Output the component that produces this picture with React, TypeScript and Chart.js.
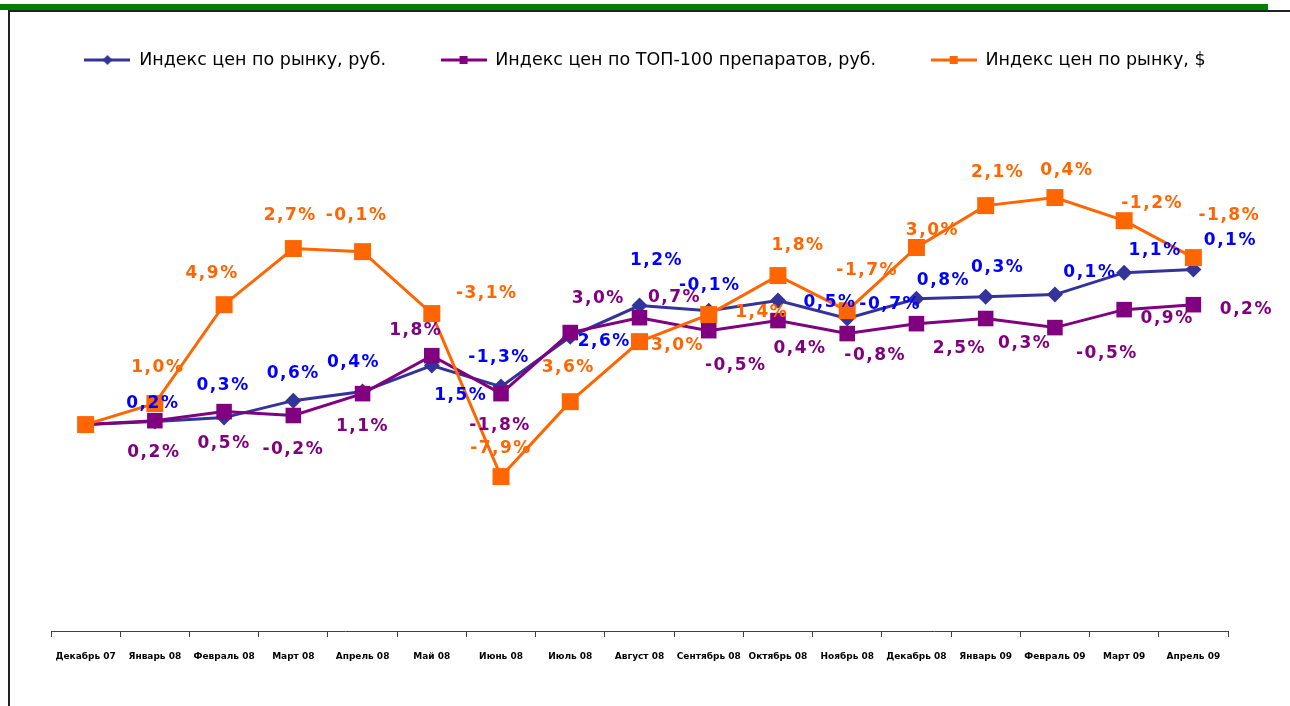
import React, { useEffect, useRef } from "react";
import { Chart, registerables } from "chart.js";

Chart.register(...registerables);

// ---- data ----
const categories = [
  "Декабрь 07", "Январь 08", "Февраль 08", "Март 08", "Апрель 08", "Май 08",
  "Июнь 08", "Июль 08", "Август 08", "Сентябрь 08", "Октябрь 08", "Ноябрь 08",
  "Декабрь 08", "Январь 09", "Февраль 09", "Март 09", "Апрель 09",
];

const seriesNames = [
  "Индекс цен по рынку, руб.",
  "Индекс цен по ТОП-100 препаратов, руб.",
  "Индекс цен по рынку, $",
];

// index levels (start = 100)
const marketRub = [100, 100.15, 100.34, 101.16, 101.6, 102.86, 101.84, 104.26, 105.77, 105.52, 106.01, 105.14, 106.1, 106.2, 106.3, 107.36, 107.51];
const top100Rub = [100, 100.19, 100.63, 100.44, 101.5, 103.34, 101.5, 104.46, 105.18, 104.55, 105.04, 104.41, 104.89, 105.14, 104.7, 105.57, 105.81];
const marketUsd = [100, 101.02, 105.81, 108.53, 108.38, 105.38, 97.48, 101.11, 104.02, 105.33, 107.22, 105.52, 108.58, 110.61, 111.0, 109.88, 108.09];

// month-on-month changes shown as labels, %
const marketRubChange = [null, 0.2, 0.3, 0.6, 0.4, 1.5, -1.3, 2.6, 1.2, -0.1, 0.5, -0.7, 0.8, 0.3, 0.1, 1.1, 0.1];
const top100RubChange = [null, 0.2, 0.5, -0.2, 1.1, 1.8, -1.8, 3.0, 0.7, -0.5, 0.4, -0.8, 2.5, 0.3, -0.5, 0.9, 0.2];
const marketUsdChange = [null, 1.0, 4.9, 2.7, -0.1, -3.1, -7.9, 3.6, 3.0, 1.4, 1.8, -1.7, 3.0, 2.1, 0.4, -1.2, -1.8];

// ---- label placement (style: offsets of each label from its point) ----
const marketRubLabelOffsets = [
  [0, 0], [-2, -18], [-1, -32], [0, -27], [-9, -29], [29, 30], [-2, -29], [34, 5], [17, -45],
  [1, -25], [52, 2], [43, -14], [27, -18], [12, -29], [35, -22], [31, -22], [37, -29],
];
const top100RubLabelOffsets = [
  [0, 0], [-1, 32], [0, 32], [0, 34], [0, 33], [-16, -25], [-1, 32], [28, -34], [35, -20],
  [27, 35], [22, 28], [28, 22], [43, 25], [39, 25], [52, 26], [43, 9], [53, 5],
];
const marketUsdLabelOffsets = [
  [0, 0], [3, -36], [-12, -31], [-3, -33], [-6, -36], [55, -20], [0, -28], [-2, -34], [38, 4],
  [53, -2], [20, -30], [20, -40], [16, -17], [12, -33], [12, -27], [28, -17], [36, -42],
];

const BLUE_LINE = "#333399";
const PURPLE = "#800080";
const ORANGE = "#FF6600";
const BLUE_TEXT = "#0000FF";

const LEGEND_FONT = 17.5;
const LEGEND_PAD = 54.5;
const TOP_PAD = 60 - LEGEND_PAD - LEGEND_FONT / 2;

function fmt(v: number): string {
  return v.toFixed(1).replace(".", ",") + "%";
}

function legendIcon(color: string, shape: "diamond" | "square"): HTMLCanvasElement {
  const c = document.createElement("canvas");
  c.width = 46;
  c.height = 12;
  const g = c.getContext("2d")!;
  g.strokeStyle = color;
  g.lineWidth = 3;
  g.beginPath();
  g.moveTo(0, 6);
  g.lineTo(46, 6);
  g.stroke();
  g.fillStyle = color;
  if (shape === "square") {
    g.fillRect(19, 2, 8, 8);
  } else {
    g.beginPath();
    g.moveTo(23, 1);
    g.lineTo(28, 6);
    g.lineTo(23, 11);
    g.lineTo(18, 6);
    g.closePath();
    g.fill();
  }
  return c;
}

const labelPlugin = {
  id: "pointLabels",
  afterDatasetsDraw(chart: any) {
    const ctx = chart.ctx as CanvasRenderingContext2D;
    const sets = [
      { idx: 0, values: marketRubChange, offs: marketRubLabelOffsets, color: BLUE_TEXT },
      { idx: 1, values: top100RubChange, offs: top100RubLabelOffsets, color: PURPLE },
      { idx: 2, values: marketUsdChange, offs: marketUsdLabelOffsets, color: ORANGE },
    ];
    ctx.save();
    ctx.font = "bold 17px 'DejaVu Sans'";
    (ctx as any).letterSpacing = "1.5px";
    ctx.textAlign = "center";
    ctx.textBaseline = "middle";
    for (const s of sets) {
      const meta = chart.getDatasetMeta(s.idx);
      ctx.fillStyle = s.color;
      s.values.forEach((v, j) => {
        if (v === null) return;
        const el = meta.data[j];
        const [dx, dy] = s.offs[j];
        ctx.fillText(fmt(v as number), el.x + dx, el.y + dy);
      });
    }
    ctx.restore();
  },
};

const legendHeightPlugin = {
  id: "legendHeight",
  beforeLayout(chart: any) {
    const lg = chart.legend;
    if (lg && !lg.__patched) {
      const orig = lg.fit;
      lg.fit = function () {
        orig.call(this);
        this.height = 115 - TOP_PAD;
      };
      lg.__patched = true;
    }
  },
};

export default function App() {
  const ref = useRef<HTMLCanvasElement | null>(null);

  useEffect(() => {
    if (!ref.current) return;
    const icons = [
      legendIcon(BLUE_LINE, "diamond"),
      legendIcon(PURPLE, "square"),
      legendIcon(ORANGE, "square"),
    ];
    const chart = new Chart(ref.current, {
      type: "line",
      data: {
        labels: categories,
        datasets: [
          {
            label: seriesNames[0],
            data: marketRub,
            borderColor: BLUE_LINE,
            backgroundColor: BLUE_LINE,
            borderWidth: 3,
            pointStyle: "rectRot",
            pointRadius: 8,
            pointBorderWidth: 0,
            tension: 0,
            order: 2,
          },
          {
            label: seriesNames[1],
            data: top100Rub,
            borderColor: PURPLE,
            backgroundColor: PURPLE,
            borderWidth: 3,
            pointStyle: "rect",
            pointRadius: 11,
            pointBorderWidth: 0,
            tension: 0,
            order: 1,
          },
          {
            label: seriesNames[2],
            data: marketUsd,
            borderColor: ORANGE,
            backgroundColor: ORANGE,
            borderWidth: 3,
            pointStyle: "rect",
            pointRadius: 12,
            pointBorderWidth: 0,
            tension: 0,
            order: 0,
          },
        ],
      },
      options: {
        responsive: false,
        animation: false,
        layout: { padding: { left: 0, right: 0, top: TOP_PAD, bottom: 0 } },
        plugins: {
          tooltip: { enabled: false },
          legend: {
            display: true,
            position: "top",
            labels: {
              usePointStyle: true,
              pointStyleWidth: 46,
              padding: LEGEND_PAD,
              color: "#000",
              font: { family: "'DejaVu Sans'", size: LEGEND_FONT },
              generateLabels: (ch: any) =>
                ch.data.datasets.map((ds: any, i: number) => ({
                  text: ds.label,
                  datasetIndex: i,
                  pointStyle: icons[i],
                  fillStyle: ds.borderColor,
                  strokeStyle: ds.borderColor,
                  lineWidth: 0,
                  fontColor: "#000",
                  hidden: false,
                })),
            },
          },
        },
        scales: {
          x: {
            offset: true,
            grid: {
              display: true,
              drawOnChartArea: false,
              drawTicks: true,
              tickLength: 6,
              offset: true,
              color: "#404040",
              lineWidth: 1,
            },
            border: { display: true, color: "#404040", width: 1 },
            ticks: {
              color: "#000",
              font: { family: "'DejaVu Sans'", size: 9, weight: "bold" },
              maxRotation: 0,
              autoSkip: false,
              padding: 14,
            },
            afterFit: (scale: any) => {
              scale.height = 75;
            },
          },
          y: {
            type: "linear",
            position: "left",
            display: true,
            min: 90,
            max: 115,
            grid: { display: false, drawTicks: false },
            border: { display: false },
            ticks: { display: false },
            afterFit: (scale: any) => {
              scale.width = 51;
            },
          },
          yRight: {
            type: "linear",
            position: "right",
            display: true,
            min: 90,
            max: 115,
            grid: { display: false, drawTicks: false },
            border: { display: false },
            ticks: { display: false },
            afterFit: (scale: any) => {
              scale.width = 62;
            },
          },
        },
      },
      plugins: [labelPlugin, legendHeightPlugin],
    } as any);
    return () => chart.destroy();
  }, []);

  return (
    <div
      style={{
        position: "absolute",
        left: 0,
        top: 0,
        width: 1290,
        height: 706,
        overflow: "hidden",
        background: "#fff",
      }}
    >
      <div style={{ position: "absolute", left: 0, top: 4, width: 1268, height: 6, background: "#008000" }} />
      <div style={{ position: "absolute", left: 8, top: 10, right: 0, height: 2, background: "#222" }} />
      <div style={{ position: "absolute", left: 8, top: 10, width: 2, bottom: 0, background: "#222" }} />
      <canvas
        ref={ref}
        width={1290}
        height={706}
        style={{ position: "absolute", left: 0, top: 0, width: 1290, height: 706 }}
      />
    </div>
  );
}
